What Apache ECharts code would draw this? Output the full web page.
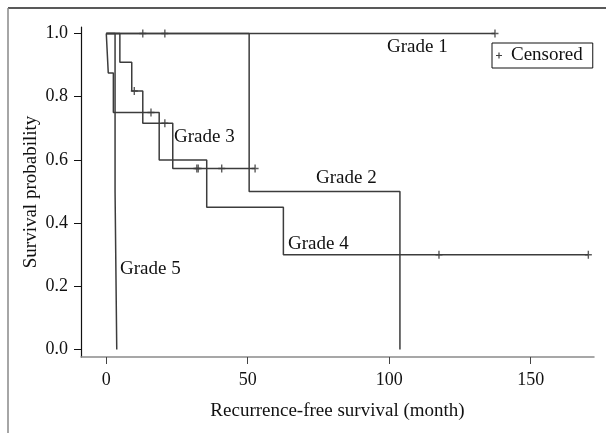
<!DOCTYPE html>
<html>
<head>
<meta charset="utf-8">
<script src="https://cdn.jsdelivr.net/npm/echarts@6/dist/echarts.min.js"></script>
<style>
  html, body { margin: 0; padding: 0; background: #fff; }
  #chart { width: 606px; height: 433px; }
</style>
</head>
<body>
<div id="chart"></div>
<script>
// Kaplan-Meier steps: time of each drop and survival after it
const grade1Times = [0, 137.4]
const grade1Surv = [1, 1]
const grade1Censor = [137.4]

const grade2Times = [0, 50.5, 103.8]
const grade2Surv = [1, 0.5, 0]
const grade2Censor = [12.9, 20.7]

const grade3Times = [0, 4.8, 9.0, 12.9, 23.5, 52.6]
const grade3Surv = [1, 0.909, 0.818, 0.716, 0.573, 0.573]
const grade3Censor = [9.9, 20.7, 32.0, 32.5, 40.8, 52.6]

const grade4Times = [0, 0.7, 2.5, 18.7, 35.5, 62.6, 170.4]
const grade4Surv = [1, 0.875, 0.75, 0.6, 0.45, 0.3, 0.3]
const grade4Censor = [15.8, 117.6, 170.4]

const grade5Times = [0, 3.1, 3.7]
const grade5Surv = [1, 0.5, 0]
const grade5Censor = []

const xTicks = [0, 50, 100, 150]
const yTicks = [0, 0.2, 0.4, 0.6, 0.8, 1.0]

const font = 'Liberation Serif'
const lineColor = '#3c3c3c'

// survival value at time t for a step curve
function survAt (times, surv, t) {
  let s = 1
  times.forEach((tt, i) => { if (tt <= t) s = surv[i] })
  return s
}

const grades = [
  { name: 'Grade 1', times: grade1Times, surv: grade1Surv, censor: grade1Censor },
  { name: 'Grade 2', times: grade2Times, surv: grade2Surv, censor: grade2Censor },
  { name: 'Grade 3', times: grade3Times, surv: grade3Surv, censor: grade3Censor },
  { name: 'Grade 4', times: grade4Times, surv: grade4Surv, censor: grade4Censor },
  { name: 'Grade 5', times: grade5Times, surv: grade5Surv, censor: grade5Censor }
]

const plusMark = 'path://M0,4.1H10V5.9H0Z M4,0H6V10H4Z'
const plusLegend = 'path://M0,4H10V6H0Z M4,0H6V10H4Z'

const series = grades.map(g => ({
  name: g.name,
  type: 'line',
  step: 'end',
  showSymbol: false,
  symbol: 'none',
  silent: true,
  lineStyle: { color: lineColor, width: 1.5 },
  data: g.times.map((t, i) => [t, g.surv[i]])
}))

const censorData = []
grades.forEach(g => {
  g.censor.forEach(t => censorData.push([t, survAt(g.times, g.surv, t)]))
})
series.push({
  name: 'Censored',
  type: 'scatter',
  symbol: plusMark,
  symbolSize: [7, 8],
  itemStyle: { color: '#333' },
  data: censorData
})

// curve labels, placed beside their curves
const labels = [
  { text: 'Grade 1', x: 387, y: 47 },
  { text: 'Grade 2', x: 316, y: 178 },
  { text: 'Grade 3', x: 174, y: 137 },
  { text: 'Grade 4', x: 288, y: 244 },
  { text: 'Grade 5', x: 120, y: 269 }
]

const chart = echarts.init(document.getElementById('chart'))
chart.setOption({
  animation: false,
  backgroundColor: '#fff',
  grid: { left: 81, top: 27, width: 513, height: 330 },
  legend: {
    data: [{ name: 'Censored', icon: plusLegend, itemStyle: { color: '#111' } }],
    left: 492,
    top: 43,
    orient: 'horizontal',
    itemWidth: 6,
    itemHeight: 6,
    itemGap: 4,
    padding: [3, 10, 3, 4],
    borderColor: '#111',
    borderWidth: 1,
    borderRadius: 0,
    backgroundColor: '#fff',
    textStyle: { fontFamily: font, fontSize: 19, color: '#111', padding: [0, 0, 0, 4] }
  },
  xAxis: {
    type: 'value',
    min: -8.94,
    max: 172.4,
    name: 'Recurrence-free survival (month)',
    nameLocation: 'middle',
    nameGap: 45,
    nameMoveOverlap: false,
    nameTextStyle: { fontFamily: font, fontSize: 19, color: '#111' },
    axisLine: { show: true, onZero: false, lineStyle: { color: '#8a8a8a', width: 1.5 } },
    axisTick: { show: true, length: 7, customValues: xTicks, lineStyle: { color: '#444' } },
    axisLabel: { customValues: xTicks, margin: 14, fontFamily: font, fontSize: 18, color: '#111' },
    splitLine: { show: false }
  },
  yAxis: {
    type: 'value',
    min: -0.0234,
    max: 1.0206,
    name: 'Survival probability',
    nameLocation: 'middle',
    nameGap: 40,
    nameMoveOverlap: false,
    nameTextStyle: { fontFamily: font, fontSize: 19, color: '#111' },
    axisLine: { show: true, onZero: false, lineStyle: { color: '#111', width: 1.2 } },
    axisTick: { show: true, length: 7, customValues: yTicks, lineStyle: { color: '#111' } },
    axisLabel: {
      customValues: yTicks,
      margin: 13,
      fontFamily: font,
      fontSize: 18,
      color: '#111',
      formatter: v => v.toFixed(1)
    },
    splitLine: { show: false }
  },
  graphic: [
    { type: 'line', shape: { x1: 8, y1: 8, x2: 606, y2: 8 }, style: { stroke: '#222', lineWidth: 1.5 } },
    { type: 'line', shape: { x1: 8, y1: 8, x2: 8, y2: 433 }, style: { stroke: '#888', lineWidth: 1.5 } },
    ...labels.map(l => ({
      type: 'text',
      x: l.x,
      y: l.y,
      style: { text: l.text, font: '19px "' + font + '"', fill: '#111', verticalAlign: 'middle' }
    }))
  ],
  series
})
</script>
</body>
</html>
